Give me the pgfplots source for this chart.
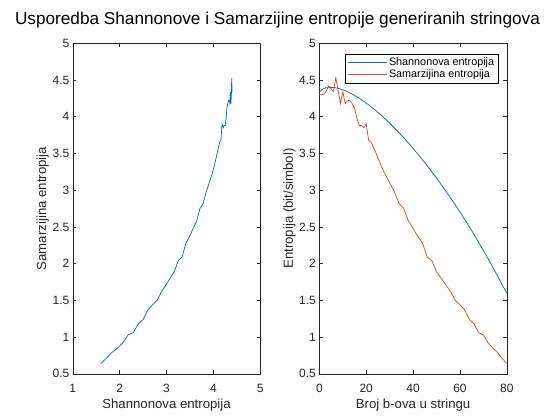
\documentclass[border=0pt]{standalone}
\usepackage{pgfplots}
\pgfplotsset{compat=1.18}
\usepackage{pgfplotstable}
\usepackage{fontspec}
\setmainfont{Liberation Sans}
\definecolor{mblue}{rgb}{0,0.447,0.741}
\definecolor{morange}{rgb}{0.85,0.325,0.098}
\definecolor{mgray}{rgb}{0.15,0.15,0.15}
\pgfplotstableread{
n S M
0 4.340 4.30
1 4.368 4.30
2 4.385 4.31
3 4.395 4.35
4 4.399 4.42
5 4.400 4.38
6 4.398 4.34
7 4.393 4.53
8 4.386 4.36
9 4.377 4.18
10 4.366 4.34
11 4.354 4.18
12 4.340 4.22
13 4.325 4.22
14 4.308 4.18
15 4.290 4.12
16 4.272 3.98
17 4.252 3.88
18 4.231 3.88
19 4.209 3.85
20 4.186 3.90
21 4.162 3.68
22 4.138 3.66
24 4.086 3.52
26 4.031 3.36
28 3.973 3.22
30 3.912 3.10
32 3.849 2.98
34 3.783 2.82
36 3.714 2.75
38 3.643 2.58
40 3.569 2.48
42 3.493 2.37
44 3.414 2.28
46 3.334 2.09
48 3.250 2.04
50 3.165 1.89
52 3.077 1.80
54 2.987 1.71
56 2.895 1.62
58 2.800 1.50
60 2.703 1.44
62 2.603 1.37
64 2.502 1.24
66 2.397 1.18
68 2.290 1.06
70 2.180 1.03
72 2.068 0.92
74 1.953 0.85
76 1.834 0.79
78 1.713 0.71
80 1.600 0.64
}\datatable
\pgfplotsset{
  mstyle/.style={
    scale only axis,
    anchor=south west,
    width=187.4pt, height=330.5pt,
    axis line style={mgray, line width=0.5pt},
    tick style={mgray, line width=0.5pt},
    tick align=inside, tick pos=both,
    major tick length=3.3pt,
    ymin=0.5, ymax=5,
    ytick={0.5,1,1.5,2,2.5,3,3.5,4,4.5,5},
    yticklabels={0.5,1,1.5,2,2.5,3,3.5,4,4.5,5},
    ticklabel style={font=\fontsize{12}{14}\selectfont, text=mgray},
    /pgf/number format/assume math mode=true,
    xticklabel style={yshift=-7pt},
    every axis x label/.style={at={(axis description cs:0.5,-0.105)}, anchor=base,
      font=\fontsize{13.2}{15}\selectfont, text=mgray},
    every axis y label/.style={at={(axis description cs:-0.142,0.5)}, rotate=90, anchor=base,
      font=\fontsize{13.2}{15}\selectfont, text=mgray},
  }
}
\begin{document}
\begin{tikzpicture}[x=1pt,y=1pt]
\path[use as bounding box, fill=white] (0,0) rectangle (560,420);
\node[anchor=base, font=\fontsize{17.2}{20}\selectfont, text=black] at (277.5,395) {Usporedba Shannonove i Samarzijine entropije generiranih stringova};
\begin{axis}[mstyle, at={(72.8pt,46.2pt)},
  xmin=1, xmax=5, xtick={1,2,3,4,5},
  xlabel={Shannonova entropija}, ylabel={Samarzijina entropija}]
\addplot[mblue, line width=0.75pt] table[x=S, y=M] {\datatable};
\end{axis}
\begin{axis}[mstyle, at={(319.4pt,46.2pt)},
  xmin=0, xmax=80, xtick={0,20,40,60,80},
  xlabel={Broj b-ova u stringu}, ylabel={Entropija (bit/simbol)},
  legend cell align=left,
  legend image code/.code={\draw[#1] (0pt,0pt) -- (39pt,0pt);},
  legend style={at={(0.955,0.968)}, anchor=north east, draw=black, line width=0.5pt,
    font=\fontsize{10.8}{12}\selectfont, text=black, inner xsep=2pt, inner ysep=1.5pt,
    row sep=-1pt, nodes={inner sep=2pt}}]
\addplot[mblue, line width=0.75pt] table[x=n, y=S] {\datatable};
\addlegendentry{Shannonova entropija}
\addplot[morange, line width=0.75pt] table[x=n, y=M] {\datatable};
\addlegendentry{Samarzijina entropija}
\end{axis}
\end{tikzpicture}
\end{document}
